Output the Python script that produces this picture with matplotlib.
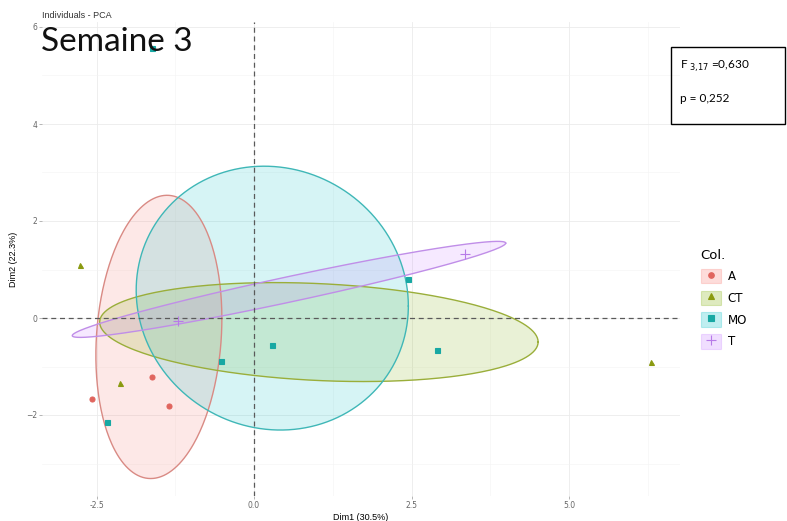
import numpy as np
import matplotlib
matplotlib.use('Agg')
import matplotlib.pyplot as plt
from matplotlib.patches import Patch, Rectangle
from matplotlib.lines import Line2D

# individuals on the first two dimensions, by group
groups = ['A', 'CT', 'MO', 'T']
a_x = [-2.57, -1.62, -1.35]
a_y = [-1.67, -1.22, -1.81]
ct_x = [-2.76, -2.12, 6.30]
ct_y = [1.09, -1.35, -0.90]
mo_x = [-2.34, -0.53, 0.29, 2.45, 2.91, -1.62]
mo_y = [-2.15, -0.88, -0.55, 0.80, -0.66, 5.57]
t_x = [3.35, -1.20]
t_y = [1.32, -0.06]

# concentration ellipses: centre x, centre y, half width, half height, correlation
ell_cx = [-1.51, 1.03, 0.29, 0.555]
ell_cy = [-0.39, -0.29, 0.41, 0.59]
ell_hw = [1.00, 3.48, 2.16, 3.44]
ell_hh = [2.92, 1.02, 2.72, 0.99]
ell_r = [0.13, -0.20, -0.06, 0.963]

xticks = [-2.5, 0.0, 2.5, 5.0]
xtick_labels = ['-2.5', '0.0', '2.5', '5.0']
yticks = [-2, 0, 2, 4, 6]

colors = ['#F8766D', '#7CAE00', '#00BFC4', '#C77CFF']
edge_colors = ['#d98a84', '#9aae3a', '#3fb7b7', '#c08ee8']
point_colors = ['#e0655e', '#8a9a10', '#17a8a3', '#b77ae8']
markers = ['o', '^', 's', '+']


def ellipse_xy(cx, cy, hw, hh, r, n=300):
    t = np.linspace(0, 2 * np.pi, n)
    cov = np.array([[hw ** 2, r * hw * hh], [r * hw * hh, hh ** 2]])
    L = np.linalg.cholesky(cov)
    pts = L @ np.vstack([np.cos(t), np.sin(t)])
    return cx + pts[0], cy + pts[1]


fig = plt.figure(figsize=(7.87, 5.21), dpi=100)
# panel spans pixels x 42..680, y 22..496
ax = fig.add_axes([42 / 787, 25 / 521, 638 / 787, 474 / 521])

ax.set_xlim((42 - 254) / 63, (680 - 254) / 63)
ax.set_ylim((318 - 496) / 48.5, (318 - 22) / 48.5)

for i in range(4):
    ex, ey = ellipse_xy(ell_cx[i], ell_cy[i], ell_hw[i], ell_hh[i], ell_r[i])
    ax.fill(ex, ey, facecolor=colors[i], alpha=0.16, edgecolor='none', zorder=2)
    ax.plot(ex, ey, color=edge_colors[i], lw=1.0, zorder=3)

ax.axhline(0, color='#5a5a5a', ls=(0, (4, 3)), lw=0.9, zorder=4)
ax.axvline(0, color='#5a5a5a', ls=(0, (4, 3)), lw=0.9, zorder=4)

pts = [(a_x, a_y), (ct_x, ct_y), (mo_x, mo_y), (t_x, t_y)]
for i, (px, py) in enumerate(pts):
    ms = 7 if markers[i] == '+' else 3.6
    ax.plot(px, py, ls='none', marker=markers[i], ms=ms, color=point_colors[i],
            mew=0.8, zorder=5)

ax.set_xticks(xticks)
ax.set_xticklabels(xtick_labels)
ax.set_yticks(yticks)
ax.set_xticks([-1.25, 1.25, 3.75, 6.25], minor=True)
ax.set_yticks([-3, -1, 1, 3, 5], minor=True)
ax.grid(True, which='major', color='#ebebeb', lw=0.6)
ax.grid(True, which='minor', color='#f3f3f3', lw=0.4)
ax.set_axisbelow(True)
for s in ax.spines.values():
    s.set_visible(False)
ax.tick_params(which='major', length=2.5, width=0.5, color='#999999',
               labelsize=5.5, labelcolor='#666666', pad=1)
ax.tick_params(which='minor', length=0)

ax.set_xlabel('Dim1 (30.5%)', fontsize=6.5, labelpad=2, family='Liberation Sans')
ax.set_ylabel('Dim2 (22.3%)', fontsize=6.5, labelpad=6, family='Liberation Sans')

fig.text(42 / 787, 1 - 15 / 521, 'Individuals - PCA', fontsize=6.5, color='#333333',
         va='center', ha='left', family='Liberation Sans')
fig.text(41 / 787, 1 - 42 / 521, 'Semaine 3', fontsize=24, color='#111111',
         va='center', ha='left', family='Lato')

# statistics box
fig.patches.append(Rectangle((671 / 787, 1 - 124 / 521), 114 / 787, 77 / 521,
                             transform=fig.transFigure, fill=False,
                             edgecolor='black', lw=1.0))
fig.text(680 / 787, 1 - 66 / 521, r'F$_{\ 3{,}17}$ =0,630', fontsize=8.5, family='Lato',
         va='center', ha='left')
fig.text(680 / 787, 1 - 98 / 521, 'p = 0,252', fontsize=8.5, family='Lato',
         va='center', ha='left')

handles = []
for i in range(4):
    box = Patch(facecolor=colors[i], alpha=0.25, edgecolor=colors[i], lw=0.8)
    ms = 7 if markers[i] == '+' else 4
    mk = Line2D([], [], ls='none', marker=markers[i], ms=ms, color=point_colors[i], mew=0.8)
    handles.append((box, mk))
leg = fig.legend(handles, groups, title='Col.', loc='upper left',
                 bbox_to_anchor=(696 / 787, 1 - 244 / 521), frameon=False,
                 fontsize=8.5, title_fontsize=9.5, handlelength=1.7, handleheight=1.5,
                 labelspacing=0.62, handletextpad=0.6, borderaxespad=0)
leg._legend_box.align = 'left'

fig.savefig('out.png', dpi=100)
